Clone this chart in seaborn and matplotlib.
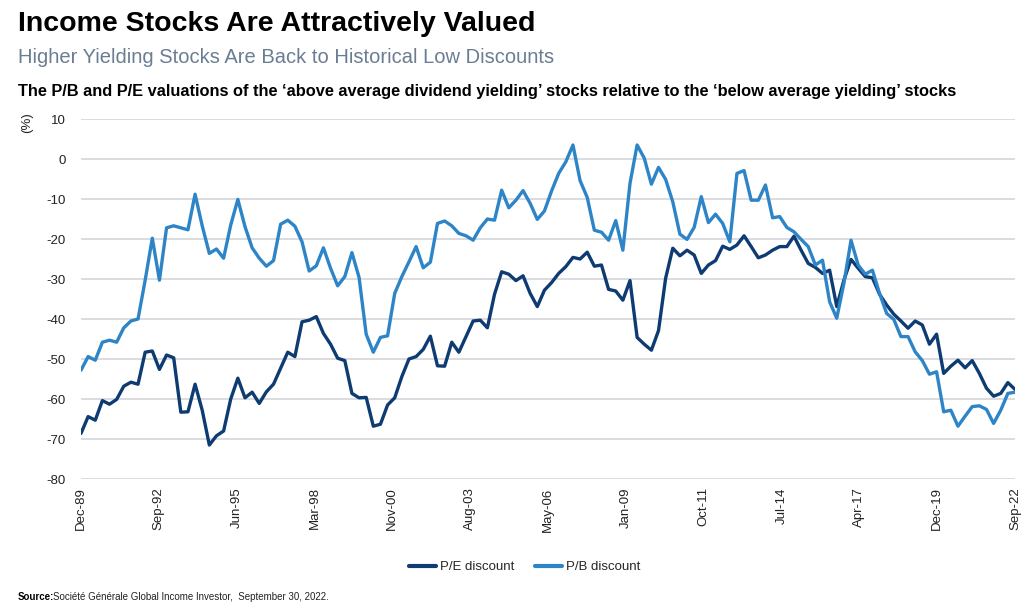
import numpy as np
import pandas as pd
import matplotlib
matplotlib.use("Agg")
import matplotlib.pyplot as plt
import seaborn as sns

# quarterly readings, Dec-89 .. Sep-22
pe_discount = [
    -68.6, -64.4, -65.3, -60.4, -61.3, -60.1, -56.8, -55.8, -56.3, -48.3,
    -48.0, -52.6, -49.0, -49.7, -63.3, -63.2, -56.3, -62.8, -71.5, -69.2,
    -68.0, -60.0, -54.8, -59.7, -58.3, -61.1, -58.2, -56.3, -52.3, -48.3,
    -49.4, -40.7, -40.3, -39.4, -43.6, -46.3, -49.8, -50.4, -58.6, -59.7,
    -59.6, -66.8, -66.3, -61.5, -59.7, -54.4, -50.0, -49.4, -47.6, -44.3,
    -51.7, -51.8, -45.8, -48.3, -44.4, -40.5, -40.3, -42.2, -33.8, -28.2,
    -28.8, -30.4, -29.2, -33.6, -36.9, -32.8, -30.9, -28.6, -26.9, -24.6,
    -25.0, -23.3, -26.8, -26.5, -32.6, -33.0, -35.3, -30.4, -44.6, -46.3,
    -47.8, -42.9, -29.8, -22.3, -24.2, -22.8, -24.0, -28.6, -26.5, -25.4,
    -21.8, -22.6, -21.5, -19.2, -21.9, -24.7, -24.0, -22.8, -21.9, -21.9,
    -19.3, -22.8, -26.1, -27.1, -28.6, -27.8, -36.9, -30.3, -25.1, -27.3,
    -29.4, -29.7, -33.8, -36.5, -38.8, -40.5, -42.3, -40.5, -41.5, -46.3,
    -43.8, -53.6, -51.8, -50.3, -52.2, -50.4, -53.6, -57.3, -59.3, -58.6,
    -55.9, -57.6,
]
pb_discount = [
    -52.8, -49.4, -50.3, -45.8, -45.3, -45.8, -42.2, -40.5, -40.0, -30.3,
    -19.8, -30.3, -17.2, -16.7, -17.2, -17.7, -8.8, -16.7, -23.6, -22.5,
    -24.8, -16.5, -10.1, -16.9, -22.2, -24.8, -26.8, -25.4, -16.3, -15.3,
    -16.8, -20.7, -28.0, -26.7, -22.2, -27.3, -31.7, -29.4, -23.4, -29.6,
    -43.8, -48.3, -44.6, -44.2, -33.6, -29.4, -25.7, -21.9, -27.2, -25.8,
    -16.1, -15.5, -16.7, -18.6, -19.2, -20.3, -17.2, -15.0, -15.3, -7.8,
    -12.2, -10.3, -7.9, -11.1, -15.1, -13.0, -8.0, -3.6, -0.7, 3.5,
    -5.4, -9.6, -17.8, -18.3, -20.3, -15.4, -22.8, -6.1, 3.5, 0.2,
    -6.3, -2.1, -5.1, -10.7, -18.8, -20.1, -17.1, -9.4, -15.9, -13.8,
    -16.1, -20.7, -3.6, -2.9, -10.3, -10.3, -6.5, -14.7, -14.4, -17.1,
    -18.2, -20.1, -21.9, -26.5, -25.3, -35.7, -39.8, -31.1, -20.3, -26.5,
    -28.8, -27.8, -33.6, -38.6, -40.1, -44.4, -44.4, -48.2, -50.4, -53.8,
    -53.2, -63.2, -62.8, -66.8, -64.3, -61.9, -61.7, -62.6, -66.1, -62.8,
    -58.6, -58.3,
]
tick_labels = ["Dec-89", "Sep-92", "Jun-95", "Mar-98", "Nov-00", "Aug-03", "May-06",
               "Jan-09", "Oct-11", "Jul-14", "Apr-17", "Dec-19", "Sep-22"]
series_names = ["P/E discount", "P/B discount"]
colors = ["#0d3b72", "#2d85c7"]

n = len(pe_discount)
df = pd.DataFrame({
    "idx": np.tile(np.arange(n), 2),
    "value": pe_discount + pb_discount,
    "series": np.repeat(series_names, n),
})

sns.set_theme(style="white")
plt.rcParams["font.family"] = ["Liberation Sans", "DejaVu Sans"]

fig = plt.figure(figsize=(10.24, 6.09), dpi=100)
ax = fig.add_axes([81 / 1024, 1 - 479 / 609, (1015 - 81) / 1024, 360 / 609])

sns.lineplot(data=df, x="idx", y="value", hue="series", hue_order=series_names,
             palette=colors, linewidth=2.4, ax=ax)

ax.set_ylim(-80, 10)
ax.set_xlim(0, n - 1)
ax.set_yticks(np.arange(-80, 11, 10))
ax.set_yticklabels([str(v) for v in range(-80, 11, 10)], fontsize=9.5, color="#222222")
ax.set_xticks(np.linspace(0, n - 1, len(tick_labels)))
ax.set_xticklabels(tick_labels, rotation=90, fontsize=9.5, color="#222222")
ax.tick_params(axis="y", length=0, pad=11)
ax.tick_params(axis="x", length=0, pad=6)
ax.grid(axis="y", color="#d9dcdf", linewidth=1.4)
ax.set_axisbelow(True)
for s in ax.spines.values():
    s.set_visible(False)
ax.set_xlabel("")
ax.set_ylabel("")

fig.text(27 / 1024, 1 - 123 / 609, "(%)", rotation=90, fontsize=9.5,
         ha="center", va="center", color="#222222")

leg = ax.legend(loc="upper center", bbox_to_anchor=(0.475, -0.195), ncol=2,
                frameon=False, fontsize=9.5, handlelength=2.0, columnspacing=1.6,
                handletextpad=0.3)
for line in leg.get_lines():
    line.set_linewidth(3.0)

fig.text(18 / 1024, 1 - 11 / 609, "Income Stocks Are Attractively Valued",
         fontsize=20.5, fontweight="bold", va="top", ha="left", color="black")
fig.text(18 / 1024, 1 - 48 / 609, "Higher Yielding Stocks Are Back to Historical Low Discounts",
         fontsize=14.5, va="top", ha="left", color="#6b7d92")
fig.text(18 / 1024, 1 - 84 / 609,
         "The P/B and P/E valuations of the \u2018above average dividend yielding\u2019 stocks "
         "relative to the \u2018below average yielding\u2019 stocks",
         fontsize=11.8, fontweight="bold", va="top", ha="left", color="black")
fig.text(18 / 1024, 1 - 597 / 609, "Source:", fontsize=7, fontweight="bold",
         va="center", ha="left", color="black")
fig.text(53 / 1024, 1 - 597 / 609,
         "Soci\u00e9t\u00e9 G\u00e9n\u00e9rale Global Income Investor,  September 30, 2022.",
         fontsize=7, va="center", ha="left", color="#222222")

fig.savefig("out.png", dpi=100)
